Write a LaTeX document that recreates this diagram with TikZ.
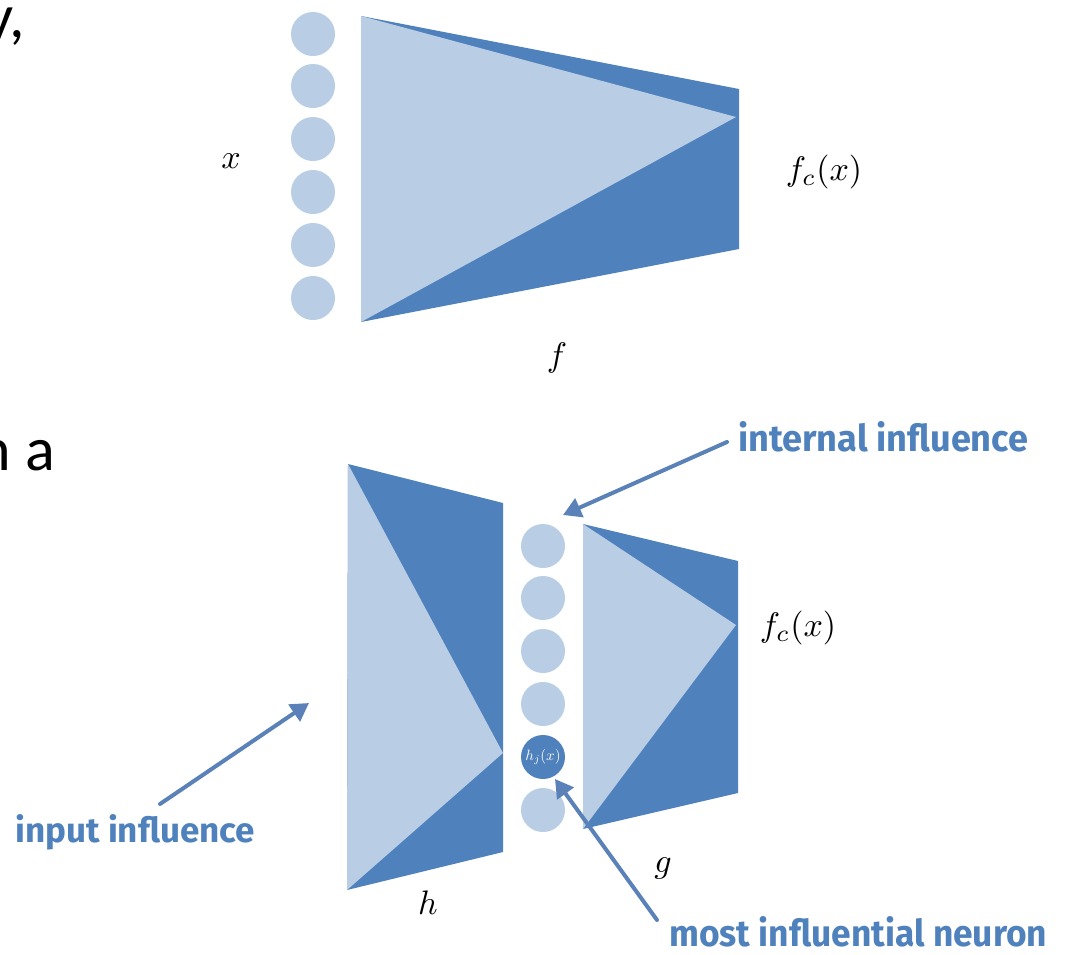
\documentclass[tikz,border=0pt]{standalone}
\usepackage{fontspec}
\setmainfont{Carlito}
\newfontfamily\handfont{Fira Sans}
\usepackage{graphicx}
\usetikzlibrary{arrows.meta}
\definecolor{darkblue}{HTML}{4F81BD}
\definecolor{lightblue}{HTML}{B9CDE5}
\definecolor{arrowblue}{HTML}{5A82B8}
\newcommand{\bigmath}[1]{\scalebox{3.4}{$#1$}}
\tikzset{
  neuron/.style={circle, fill=lightblue, draw=none, minimum size=44pt, inner sep=0pt},
  hotneuron/.style={circle, fill=darkblue, draw=none, minimum size=44pt, inner sep=0pt, text=white},
  mathlabel/.style={inner sep=0pt},
  handlabel/.style={inner sep=0pt, text=darkblue, font=\handfont\bfseries},
  sketcharrow/.style={draw=arrowblue, line width=4pt, line cap=round, -{Triangle[length=18pt,width=20pt]}},
  slidetext/.style={inner sep=0pt, font=\fontsize{62pt}{70pt}\selectfont}
}
\begin{document}
\begin{tikzpicture}[x=1pt,y=-1pt]
\useasboundingbox (0,0) rectangle (1065,954);
\fill[white] (0,0) rectangle (1065,954);

% clipped slide text
\begin{scope}
\clip (0,0) rectangle (1065,954);
\node[slidetext, anchor=base east] (t1) at (25,37) {y,};
\node[slidetext, anchor=base east] (t2) at (55,470) {n a};
\end{scope}

% ---------- top network f ----------
\fill[darkblue] (361,16) -- (739,89) -- (739,249) -- (361,322) -- cycle;
\fill[lightblue] (361,16) -- (736,117) -- (361,322) -- cycle;
\node[neuron] (x1) at (313,34) {};
\node[neuron] (x2) at (313,86) {};
\node[neuron] (x3) at (313,139) {};
\node[neuron] (x4) at (313,192) {};
\node[neuron] (x5) at (313,245) {};
\node[neuron] (x6) at (313,298) {};
\node[mathlabel] (lx) at (231,161) {\bigmath{x}};
\node[mathlabel] (lfc1) at (824,172) {\bigmath{f_c(x)}};
\node[mathlabel] (lf) at (557,358) {\bigmath{f}};

% ---------- bottom network h ----------
\fill[darkblue] (348,464) -- (503,503) -- (503,852) -- (347,890) -- cycle;
\fill[lightblue] (348,464) -- (503,753) -- (347,890) -- cycle;
% ---------- bottom network g ----------
\fill[darkblue] (583,524) -- (738,561) -- (738,793) -- (583,829) -- cycle;
\fill[lightblue] (583,524) -- (736,625) -- (583,829) -- cycle;

\node[neuron] (h1) at (543,546) {};
\node[neuron] (h2) at (543,598) {};
\node[neuron] (h3) at (543,651) {};
\node[neuron] (h4) at (543,704) {};
\node[hotneuron] (hj) at (543,757) {\scalebox{1.5}{$h_j(x)$}};
\node[neuron] (h6) at (543,810) {};

\node[mathlabel] (lfc2) at (798,628) {\bigmath{f_c(x)}};
\node[mathlabel] (lh) at (428,903) {\bigmath{h}};
\node[mathlabel] (lg) at (663,868) {\bigmath{g}};

% ---------- annotations ----------
\node[handlabel, anchor=south west] (internal) at (738,452) {\resizebox{290pt}{30pt}{internal influence}};
\node[handlabel, anchor=south west] (input) at (15,850) {\resizebox{240pt}{28pt}{input influence}};
\node[handlabel, anchor=south west] (most) at (669,947) {\resizebox{378pt}{30pt}{most influential neuron}};

\coordinate (intTail) at (727,442);
\coordinate (intTip) at (563,515);
\coordinate (inTail) at (160,804);
\coordinate (inTip) at (309,703);
\coordinate (mostTail) at (657,920);
\coordinate (mostTip) at (555,779);

\draw[sketcharrow] (intTail) -- (intTip);
\draw[sketcharrow] (inTail) -- (inTip);
\draw[sketcharrow] (mostTail) -- (mostTip);
\end{tikzpicture}
\end{document}
